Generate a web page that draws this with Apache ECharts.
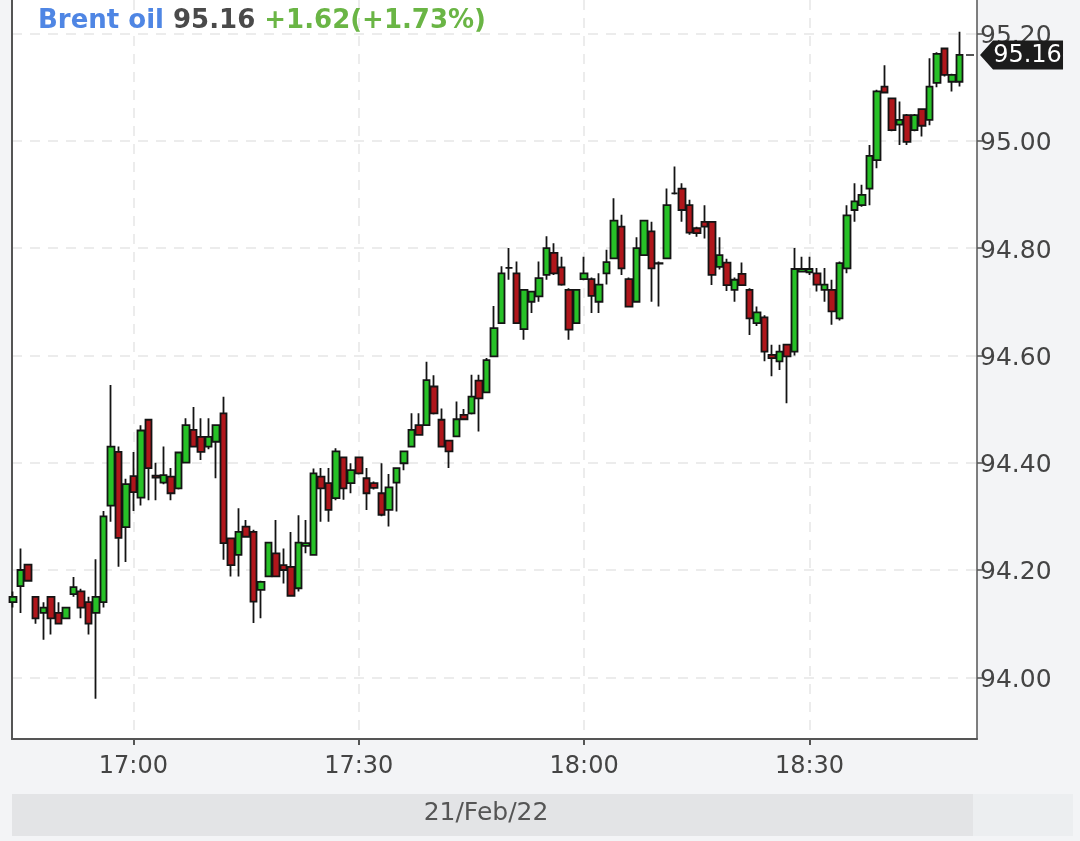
<!DOCTYPE html>
<html><head><meta charset="utf-8">
<script src="https://cdn.jsdelivr.net/npm/echarts@6/dist/echarts.min.js"></script>
<style>html,body{margin:0;padding:0;background:#f3f4f6;}#c{width:1080px;height:841px;}</style>
</head><body><div id="c"></div>
<script>
const instrument = 'Brent oil';
const dateLabel = '21/Feb/22';
const prevClose = 93.54;
const times = ['16:44','16:45','16:46','16:47','16:48','16:49','16:50','16:51','16:52','16:53','16:54','16:55','16:56','16:57','16:58','16:59',
'17:00','17:01','17:02','17:03','17:04','17:05','17:06','17:07','17:08','17:09','17:10','17:11','17:12','17:13','17:14','17:15','17:16','17:17','17:18','17:19',
'17:20','17:21','17:22','17:23','17:24','17:25','17:26','17:27','17:28','17:29','17:30','17:31','17:32','17:33','17:34','17:35','17:36','17:37','17:38','17:39',
'17:40','17:41','17:42','17:43','17:44','17:45','17:46','17:47','17:48','17:49','17:50','17:51','17:52','17:53','17:54','17:55','17:56','17:57','17:58','17:59',
'18:00','18:01','18:02','18:03','18:04','18:05','18:06','18:07','18:08','18:09','18:10','18:11','18:12','18:13','18:14','18:15','18:16','18:17','18:18','18:19',
'18:20','18:21','18:22','18:23','18:24','18:25','18:26','18:27','18:28','18:29','18:30','18:31','18:32','18:33','18:34','18:35','18:36','18:37','18:38','18:39',
'18:40','18:41','18:42','18:43','18:44','18:45','18:46','18:47','18:48','18:49','18:50'];
const opens = [94.14,94.17,94.21,94.15,94.12,94.15,94.12,94.11,94.155,94.16,
94.14,94.12,94.14,94.32,94.42,94.28,94.375,94.335,94.48,94.376,
94.363,94.374,94.352,94.40,94.461,94.448,94.43,94.439,94.492,94.259,
94.228,94.281,94.271,94.163,94.188,94.231,94.209,94.206,94.166,94.245,
94.228,94.374,94.362,94.334,94.41,94.362,94.41,94.371,94.362,94.343,
94.312,94.363,94.399,94.43,94.47,94.47,94.542,94.48,94.441,94.449,
94.489,94.492,94.553,94.531,94.598,94.66,94.763,94.753,94.649,94.70,
94.71,94.75,94.791,94.764,94.722,94.66,94.742,94.742,94.70,94.753,
94.781,94.84,94.742,94.70,94.787,94.831,94.772,94.781,94.902,94.911,
94.88,94.837,94.849,94.849,94.765,94.773,94.722,94.752,94.722,94.66,
94.671,94.601,94.589,94.62,94.607,94.756,94.755,94.753,94.722,94.722,
94.669,94.762,94.871,94.88,94.911,94.964,95.101,95.079,95.03,95.048,
95.02,95.059,95.039,95.108,95.172,95.11,95.11];
const closes = [94.15,94.20,94.18,94.11,94.13,94.11,94.10,94.13,94.168,94.13,
94.10,94.15,94.30,94.43,94.26,94.36,94.345,94.46,94.39,94.372,
94.377,94.343,94.419,94.47,94.43,94.42,94.448,94.47,94.25,94.209,
94.271,94.262,94.141,94.178,94.251,94.188,94.20,94.152,94.251,94.25,
94.38,94.352,94.312,94.421,94.352,94.386,94.38,94.343,94.353,94.303,
94.354,94.39,94.421,94.461,94.452,94.554,94.492,94.43,94.421,94.481,
94.481,94.523,94.52,94.591,94.651,94.753,94.763,94.66,94.722,94.719,
94.744,94.80,94.753,94.732,94.648,94.722,94.753,94.711,94.732,94.774,
94.851,94.762,94.691,94.80,94.851,94.762,94.771,94.88,94.902,94.871,
94.829,94.828,94.84,94.75,94.787,94.731,94.741,94.731,94.669,94.68,
94.607,94.595,94.607,94.598,94.761,94.761,94.761,94.732,94.732,94.682,
94.772,94.861,94.887,94.899,94.972,95.092,95.09,95.02,95.039,94.998,
95.048,95.028,95.101,95.162,95.123,95.123,95.16];
const lows = [94.13,94.12,94.18,94.10,94.07,94.08,94.10,94.11,94.15,94.11,
94.08,93.96,94.13,94.29,94.206,94.215,94.31,94.32,94.33,94.33,
94.36,94.33,94.35,94.40,94.43,94.405,94.425,94.371,94.219,94.188,
94.188,94.26,94.101,94.11,94.188,94.188,94.175,94.152,94.16,94.231,
94.228,94.29,94.29,94.33,94.331,94.343,94.378,94.312,94.35,94.30,
94.281,94.309,94.386,94.43,94.45,94.47,94.49,94.43,94.39,94.449,
94.48,94.49,94.458,94.53,94.598,94.66,94.741,94.66,94.629,94.679,
94.70,94.741,94.75,94.73,94.629,94.66,94.74,94.679,94.679,94.732,
94.78,94.75,94.69,94.70,94.787,94.70,94.691,94.78,94.90,94.849,
94.825,94.821,94.818,94.731,94.76,94.72,94.70,94.73,94.638,94.655,
94.589,94.561,94.573,94.511,94.60,94.755,94.75,94.719,94.70,94.657,
94.665,94.753,94.849,94.877,94.88,94.949,95.088,95.018,94.992,94.992,
95.018,95.008,95.029,95.10,95.12,95.092,95.101];
const highs = [94.16,94.24,94.21,94.15,94.14,94.15,94.14,94.13,94.187,94.165,
94.15,94.22,94.31,94.545,94.43,94.37,94.42,94.47,94.48,94.40,
94.43,94.39,94.42,94.483,94.504,94.483,94.483,94.47,94.523,94.26,
94.315,94.293,94.275,94.18,94.251,94.293,94.24,94.271,94.302,94.293,
94.389,94.39,94.39,94.427,94.41,94.399,94.41,94.39,94.365,94.399,
94.379,94.39,94.421,94.492,94.492,94.588,94.563,94.501,94.441,94.514,
94.50,94.564,94.564,94.595,94.692,94.766,94.80,94.775,94.722,94.72,
94.775,94.822,94.809,94.784,94.725,94.722,94.784,94.745,94.753,94.797,
94.893,94.862,94.745,94.82,94.851,94.849,94.775,94.911,94.952,94.921,
94.89,94.84,94.88,94.85,94.82,94.78,94.745,94.773,94.725,94.691,
94.675,94.62,94.62,94.62,94.80,94.784,94.784,94.763,94.763,94.741,
94.775,94.88,94.921,94.918,94.992,95.095,95.141,95.08,95.073,95.05,
95.05,95.06,95.154,95.165,95.172,95.125,95.203];

const FONT = 'DejaVu Sans';
const toMin = t => { const p = t.split(':').map(Number); return p[0] * 60 + p[1]; };
const pad = n => (n < 10 ? '0' : '') + n;
const fmtTime = v => pad(Math.floor(v / 60)) + ':' + pad(Math.round(v % 60));
const candleData = times.map((t, i) => [toMin(t), opens[i], closes[i], lows[i], highs[i]]);
const lastIdx = closes.length - 1;
const last = closes[lastIdx];
const change = last - prevClose;
const pct = change / prevClose * 100;
const sgn = v => (v >= 0 ? '+' : '-');

const gridLine = { show: true, showMinLine: false, showMaxLine: false, lineStyle: { type: [10, 8], color: '#e6e6e6', width: 1.5 } };

const chart = echarts.init(document.getElementById('c'), null, { renderer: 'canvas' });
chart.setOption({
  backgroundColor: '#f3f4f6',
  animation: false,
  textStyle: { fontFamily: FONT },
  title: {
    left: 38, top: 7, padding: 0,
    text: '{a|' + instrument + '} {b|' + last.toFixed(2) + '} {c|' + sgn(change) + Math.abs(change).toFixed(2) + '(' + sgn(pct) + Math.abs(pct).toFixed(2) + '%)}',
    textStyle: {
      fontFamily: FONT, fontSize: 26, fontWeight: 'bold', lineHeight: 28,
      rich: {
        a: { color: '#4f86e4', fontSize: 26, fontWeight: 'bold', fontFamily: FONT, lineHeight: 28 },
        b: { color: '#4a4a4a', fontSize: 26, fontWeight: 'bold', fontFamily: FONT, lineHeight: 28 },
        c: { color: '#6ab545', fontSize: 26, fontWeight: 'bold', fontFamily: FONT, lineHeight: 28 }
      }
    }
  },
  grid: { left: 12, right: 103, top: 0, bottom: 102, show: true, backgroundColor: '#ffffff', borderWidth: 0, z: 0 },
  xAxis: {
    type: 'value', min: 1003.84, max: 1132.3, minInterval: 30, maxInterval: 30,
    axisLine: { show: true, lineStyle: { color: '#555', width: 2 } },
    axisTick: { show: true, length: 6, lineStyle: { color: '#555', width: 2 } },
    axisLabel: { showMinLabel: false, showMaxLabel: false, formatter: fmtTime, fontSize: 24, color: '#444', margin: 16, fontFamily: FONT },
    splitLine: gridLine
  },
  yAxis: [{
    type: 'value', position: 'right', min: 93.885, max: 95.2624, minInterval: 0.2, maxInterval: 0.2,
    axisLine: { show: true, lineStyle: { color: '#555', width: 1.5 } },
    axisTick: { show: true, length: 7, lineStyle: { color: '#555', width: 1.5 } },
    axisLabel: { showMinLabel: false, showMaxLabel: false, formatter: v => v.toFixed(2), fontSize: 25, color: '#444', margin: 3, fontFamily: FONT, verticalAlign: 'top', lineHeight: 6 },
    splitLine: gridLine
  }, {
    type: 'value', position: 'left', min: 0, max: 1,
    axisLine: { show: true, lineStyle: { color: '#555', width: 2 } },
    axisTick: { show: false }, axisLabel: { show: false }, splitLine: { show: false }
  }],
  series: [{
    type: 'candlestick',
    data: candleData,
    encode: { x: 0, y: [1, 2, 3, 4] },
    barWidth: 7,
    itemStyle: { color: '#27c127', color0: '#b0161b', borderColor: '#141414', borderColor0: '#141414', borderWidth: 1.8 },
    markPoint: {
      symbol: 'path://M0,13.75L8,13.75L8,15.25L0,15.25Z M14,14.5L27,0L97,0L97,29L27,29Z',
      symbolSize: [97, 29],
      symbolOffset: [54.8, 0],
      itemStyle: { color: '#1c1c1c' },
      label: { show: true, position: 'inside', offset: [13, 1], color: '#ffffff', fontSize: 24, fontFamily: FONT, formatter: () => last.toFixed(2) },
      data: [{ coord: [toMin(times[lastIdx]), last], value: last }]
    }
  }],
  graphic: [
    { type: 'rect', x: 12, y: 794, shape: { width: 961, height: 42 }, style: { fill: '#e3e4e6' }, silent: true },
    { type: 'rect', x: 973, y: 794, shape: { width: 100, height: 42 }, style: { fill: '#eceef0' }, silent: true },
    { type: 'text', x: 486, y: 813, style: { text: dateLabel, fill: '#555', fontSize: 25, fontFamily: FONT, align: 'center', verticalAlign: 'middle' }, silent: true }
  ]
});
</script>
</body></html>
